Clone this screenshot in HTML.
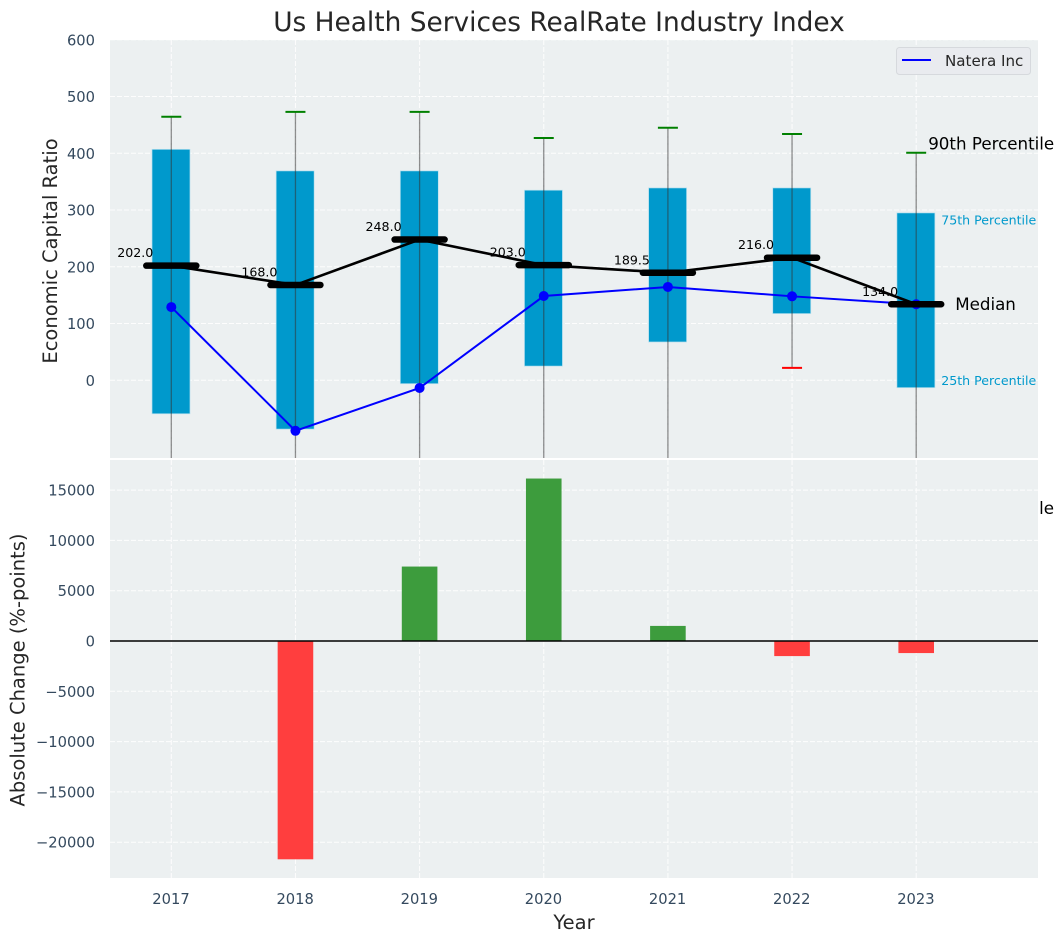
<!DOCTYPE html>
<html>
<head>
<meta charset="utf-8">
<style>
html,body{margin:0;padding:0;background:#fff;width:1063px;height:942px;overflow:hidden}
svg{display:block;font-family:"DejaVu Sans","Liberation Sans",sans-serif}
</style>
</head>
<body>
<svg id="chart" xmlns="http://www.w3.org/2000/svg" width="1063" height="942" viewBox="0 0 1063 942">
  <defs>
    <clipPath id="clipTop"><rect x="110" y="40" width="928" height="418"/></clipPath>
    <clipPath id="clipBottom"><rect x="110" y="460" width="928" height="418"/></clipPath>
  </defs>
  <text x="559" y="31" font-size="26.4" fill="#262626" text-anchor="middle">Us Health Services RealRate Industry Index</text>
  <text x="928" y="514" font-size="16.7" fill="#000">10th Percentile</text>
  <rect x="110" y="40" width="928" height="418" fill="#ecf0f1"/>
  <g id="topGrid"></g>
  <g id="topMarks" clip-path="url(#clipTop)"></g>
  <g id="topLabels"></g>
  <rect x="110" y="460" width="928" height="418" fill="#ecf0f1"/>
  <g id="bottomGrid"></g>
  <g id="bottomMarks" clip-path="url(#clipBottom)"></g>
  <g id="axisLabels"></g>
  <text transform="translate(57,251) rotate(-90)" font-size="19.5" fill="#262626" text-anchor="middle">Economic Capital Ratio</text>
  <text transform="translate(24.5,670) rotate(-90)" font-size="19.5" fill="#262626" text-anchor="middle">Absolute Change (%-points)</text>
  <text x="574" y="929" font-size="19.5" fill="#262626" text-anchor="middle">Year</text>
  <g>
    <rect x="896.5" y="47.5" width="134" height="27" rx="3" fill="#e9ebef" stroke="#d6d9dd" stroke-width="1"/>
    <line x1="902" y1="60" x2="931" y2="60" stroke="#0000ff" stroke-width="2"/>
    <text x="945" y="66" font-size="15.1" fill="#262626">Natera Inc</text>
  </g>
</svg>
<script>
const years = [2017, 2018, 2019, 2020, 2021, 2022, 2023];
const p90 = [464.5, 473, 473, 427, 445, 434, 401];
const p75 = [407, 369, 369, 335, 339, 339, 295];
const median = [202, 168, 248, 203, 189.5, 216, 134];
const p25 = [-59, -86, -6, 25, 67.5, 117.5, -13];
const p10 = [-160, -180, -170, -150, -150, 22, -170];
const natera = [129, -89, -13.5, 148.5, 164.5, 148, 134];
const changeYears = [2018, 2019, 2020, 2021, 2022, 2023];
const change = [-21700, 7400, 16150, 1500, -1500, -1200];
const upperTicks = [0, 100, 200, 300, 400, 500, 600];
const lowerTicks = [-20000, -15000, -10000, -5000, 0, 5000, 10000, 15000];

const xPos = function (year) { return 171.3 + (year - 2017) * 124.15; };
const yTop = function (v) { return 380.3 - v * 0.5675; };
const yBot = function (v) { return 641 - v * 0.01006; };
const SVG_NS = 'http://www.w3.org/2000/svg';
const layer = function (id) { return document.getElementById(id); };
const make = function (parent, tag, attrs, content) {
  const el = document.createElementNS(SVG_NS, tag);
  Object.keys(attrs).forEach(function (k) { el.setAttribute(k, attrs[k]); });
  if (content !== undefined) { el.textContent = content; }
  parent.appendChild(el);
  return el;
};
const gridStyle = { stroke: '#ffffff', 'stroke-width': 1, 'stroke-dasharray': '5 2', opacity: 0.9 };
const fmtTick = function (v) { return v < 0 ? '\u2212' + Math.abs(v) : String(v); };

/* grids */
upperTicks.forEach(function (t) {
  const el = make(layer('topGrid'), 'line', Object.assign({ x1: 110, x2: 1038, y1: yTop(t), y2: yTop(t) }, gridStyle));
  
  
  const lab = make(layer('axisLabels'), 'text', { x: 95, y: yTop(t) + 5.6, 'font-size': 14.7, fill: '#34495e', 'text-anchor': 'end' }, fmtTick(t));
  
  
});
lowerTicks.forEach(function (t) {
  const el = make(layer('bottomGrid'), 'line', Object.assign({ x1: 110, x2: 1038, y1: yBot(t), y2: yBot(t) }, gridStyle));
  
  
  const lab = make(layer('axisLabels'), 'text', { x: 95, y: yBot(t) + 5.5, 'font-size': 14.7, fill: '#34495e', 'text-anchor': 'end' }, fmtTick(t));
  
  
});
years.forEach(function (yr) {
  const a = make(layer('topGrid'), 'line', Object.assign({ x1: xPos(yr), x2: xPos(yr), y1: 40, y2: 458 }, gridStyle));
  
  
  const b = make(layer('bottomGrid'), 'line', Object.assign({ x1: xPos(yr), x2: xPos(yr), y1: 460, y2: 878 }, gridStyle));
  
  
  const lab = make(layer('axisLabels'), 'text', { x: xPos(yr) - 0.3, y: 904, 'font-size': 14.7, fill: '#34495e', 'text-anchor': 'middle' }, String(yr));
  
  
});

/* boxes, whiskers, caps */
const upperMarks = layer('topMarks');
years.forEach(function (yr, i) {
  const x = xPos(yr);
  const box = make(upperMarks, 'rect', { x: x - 19.3, y: yTop(p75[i]), width: 38, height: yTop(p25[i]) - yTop(p75[i]), fill: '#0099cc', stroke: '#b8e0ee', 'stroke-width': 0.7 });
  
  
  const wh = make(upperMarks, 'line', { x1: x, x2: x, y1: yTop(p90[i]), y2: yTop(p10[i]), stroke: '#333333', 'stroke-opacity': 0.55, 'stroke-width': 1.3 });
  
  
  const hi = make(upperMarks, 'line', { x1: x - 10, x2: x + 10, y1: yTop(p90[i]), y2: yTop(p90[i]), stroke: '#008000', 'stroke-width': 2 });
  
  
  const lo = make(upperMarks, 'line', { x1: x - 10, x2: x + 10, y1: yTop(p10[i]), y2: yTop(p10[i]), stroke: '#ff0000', 'stroke-width': 2 });
  
  
});

/* Natera line and markers */
const nateraPts = years.map(function (yr, i) { return xPos(yr) + ',' + yTop(natera[i]); }).join(' ');
const nateraLine = make(upperMarks, 'polyline', { points: nateraPts, fill: 'none', stroke: '#0000ff', 'stroke-width': 2 });


years.forEach(function (yr, i) {
  const dot = make(upperMarks, 'circle', { cx: xPos(yr), cy: yTop(natera[i]), r: 5, fill: '#0000ff' });
  
  
});

/* median line, bars, labels */
const medianPts = years.map(function (yr, i) { return xPos(yr) + ',' + yTop(median[i]); }).join(' ');
const medianLine = make(upperMarks, 'polyline', { points: medianPts, fill: 'none', stroke: '#000000', 'stroke-width': 2.6 });


years.forEach(function (yr, i) {
  const x = xPos(yr);
  const bar = make(upperMarks, 'line', { x1: x - 25, x2: x + 25, y1: yTop(median[i]), y2: yTop(median[i]), stroke: '#000000', 'stroke-width': 6.5, 'stroke-linecap': 'round' });
  
  
  const lab = make(layer('topLabels'), 'text', { x: x - 18, y: yTop(median[i]) - 8.5, 'font-size': 12.6, fill: '#000', 'text-anchor': 'end' }, median[i].toFixed(1));
  
  
});

/* percentile key beside the final year */
const last = years.length - 1;
const lx = xPos(years[last]);
const k90 = make(layer('topLabels'), 'text', { x: lx + 12, y: yTop(p90[last]) - 3, 'font-size': 16.7, fill: '#000' }, '90th Percentile');


const k75 = make(layer('topLabels'), 'text', { x: lx + 25, y: yTop(p75[last]) + 11.5, 'font-size': 12.6, fill: '#0099cc' }, '75th Percentile');


const kMed = make(layer('topLabels'), 'text', { x: lx + 39, y: yTop(median[last]) + 5.5, 'font-size': 16.7, fill: '#000' }, 'Median');


const k25 = make(layer('topLabels'), 'text', { x: lx + 25, y: yTop(p25[last]) - 2.5, 'font-size': 12.6, fill: '#0099cc' }, '25th Percentile');



/* change bars */
const lowerMarks = layer('bottomMarks');
changeYears.forEach(function (yr, i) {
  const v = change[i];
  const y0 = yBot(Math.max(v, 0));
  const y1 = yBot(Math.min(v, 0));
  const rect = make(lowerMarks, 'rect', { x: xPos(yr) - 17.8, y: y0, width: 35.6, height: y1 - y0, fill: v >= 0 ? '#3d9c3d' : '#ff3e3e' });
  
  
});
const zero = make(lowerMarks, 'line', { x1: 110, x2: 1038, y1: yBot(0), y2: yBot(0), stroke: '#000000', 'stroke-width': 1.4 });


</script>
</body>
</html>
